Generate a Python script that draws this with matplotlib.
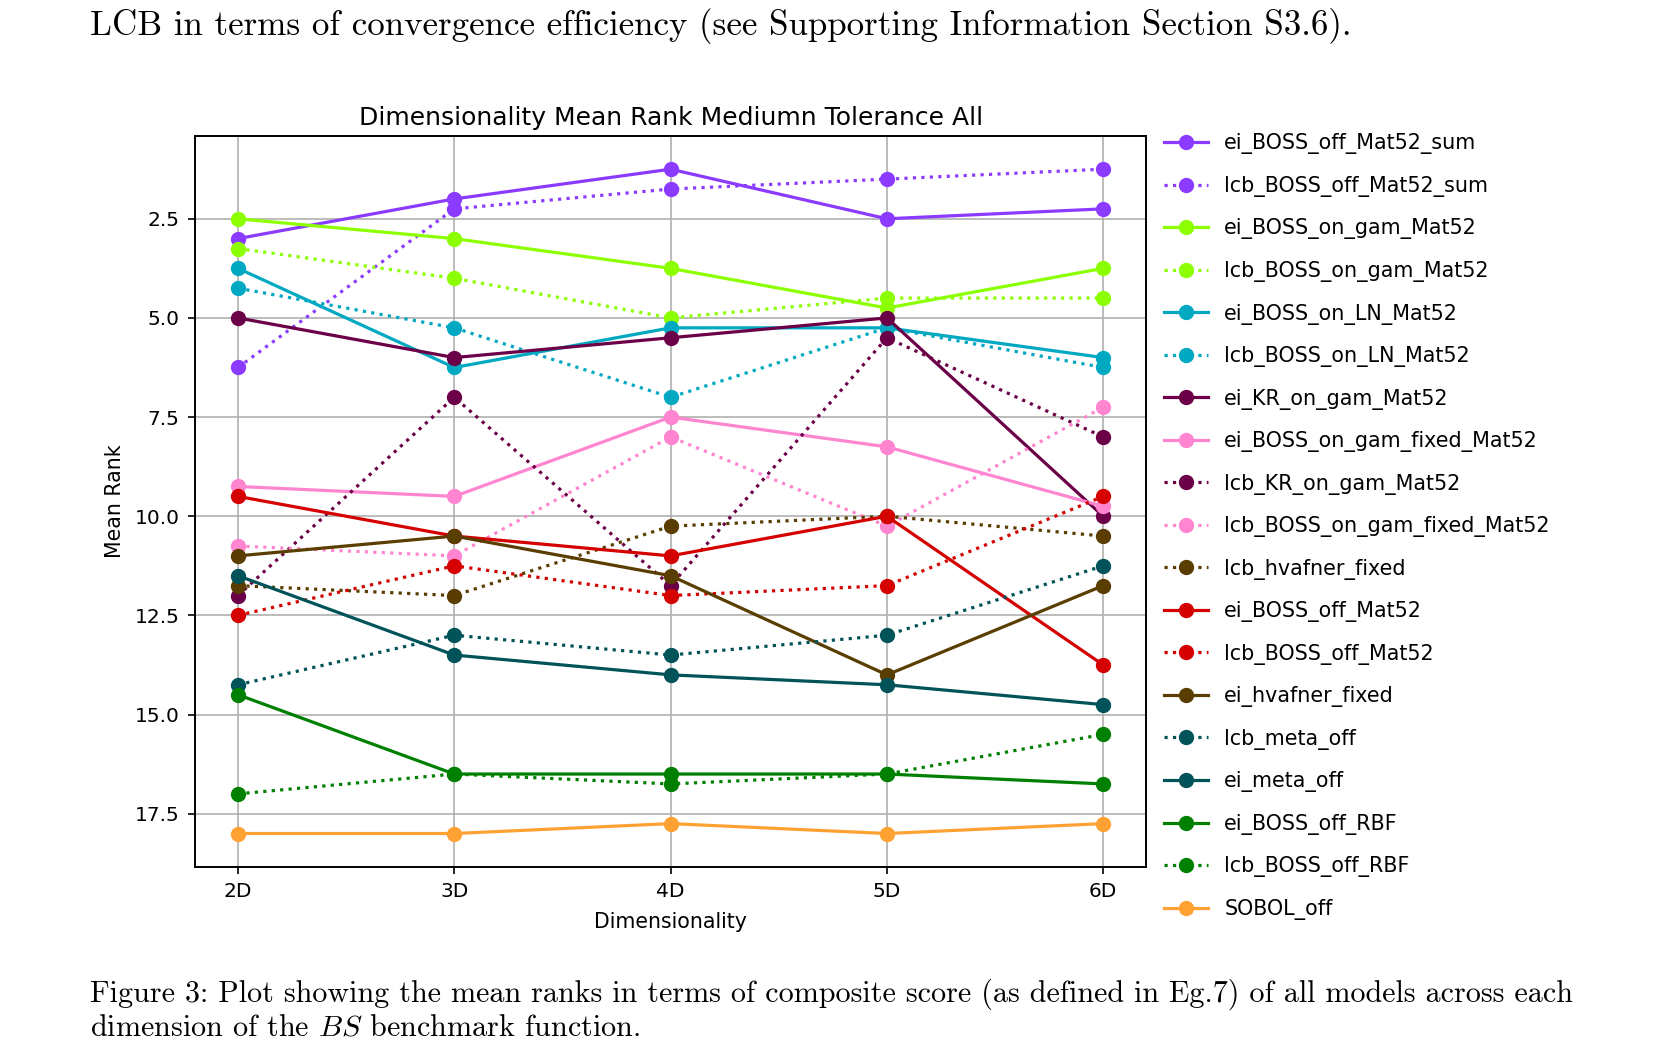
import matplotlib
matplotlib.use("Agg")
import matplotlib.pyplot as plt

plt.rcParams['mathtext.fontset'] = 'cm'

dims = ['2D', '3D', '4D', '5D', '6D']

# mean rank per model, one value per dimension
ei_BOSS_off_Mat52_sum = [3.0, 2.0, 1.25, 2.5, 2.25]
lcb_BOSS_off_Mat52_sum = [6.25, 2.25, 1.75, 1.5, 1.25]
ei_BOSS_on_gam_Mat52 = [2.5, 3.0, 3.75, 4.75, 3.75]
lcb_BOSS_on_gam_Mat52 = [3.25, 4.0, 5.0, 4.5, 4.5]
ei_BOSS_on_LN_Mat52 = [3.75, 6.25, 5.25, 5.25, 6.0]
lcb_BOSS_on_LN_Mat52 = [4.25, 5.25, 7.0, 5.25, 6.25]
ei_KR_on_gam_Mat52 = [5.0, 6.0, 5.5, 5.0, 10.0]
ei_BOSS_on_gam_fixed_Mat52 = [9.25, 9.5, 7.5, 8.25, 9.75]
lcb_KR_on_gam_Mat52 = [12.0, 7.0, 11.75, 5.5, 8.0]
lcb_BOSS_on_gam_fixed_Mat52 = [10.75, 11.0, 8.0, 10.25, 7.25]
lcb_hvafner_fixed = [11.75, 12.0, 10.25, 10.0, 10.5]
ei_BOSS_off_Mat52 = [9.5, 10.5, 11.0, 10.0, 13.75]
lcb_BOSS_off_Mat52 = [12.5, 11.25, 12.0, 11.75, 9.5]
ei_hvafner_fixed = [11.0, 10.5, 11.5, 14.0, 11.75]
lcb_meta_off = [14.25, 13.0, 13.5, 13.0, 11.25]
ei_meta_off = [11.5, 13.5, 14.0, 14.25, 14.75]
ei_BOSS_off_RBF = [14.5, 16.5, 16.5, 16.5, 16.75]
lcb_BOSS_off_RBF = [17.0, 16.5, 16.75, 16.5, 15.5]
SOBOL_off = [18.0, 18.0, 17.75, 18.0, 17.75]

# (label, values, colour, linestyle)
series = [
    ('ei_BOSS_off_Mat52_sum', ei_BOSS_off_Mat52_sum, '#8B3BFF', '-'),
    ('lcb_BOSS_off_Mat52_sum', lcb_BOSS_off_Mat52_sum, '#8B3BFF', ':'),
    ('ei_BOSS_on_gam_Mat52', ei_BOSS_on_gam_Mat52, '#8CFF00', '-'),
    ('lcb_BOSS_on_gam_Mat52', lcb_BOSS_on_gam_Mat52, '#8CFF00', ':'),
    ('ei_BOSS_on_LN_Mat52', ei_BOSS_on_LN_Mat52, '#00A8C2', '-'),
    ('lcb_BOSS_on_LN_Mat52', lcb_BOSS_on_LN_Mat52, '#00A8C2', ':'),
    ('ei_KR_on_gam_Mat52', ei_KR_on_gam_Mat52, '#6B0048', '-'),
    ('ei_BOSS_on_gam_fixed_Mat52', ei_BOSS_on_gam_fixed_Mat52, '#FF85D0', '-'),
    ('lcb_KR_on_gam_Mat52', lcb_KR_on_gam_Mat52, '#6B0048', ':'),
    ('lcb_BOSS_on_gam_fixed_Mat52', lcb_BOSS_on_gam_fixed_Mat52, '#FF85D0', ':'),
    ('lcb_hvafner_fixed', lcb_hvafner_fixed, '#5A3D00', ':'),
    ('ei_BOSS_off_Mat52', ei_BOSS_off_Mat52, '#D50000', '-'),
    ('lcb_BOSS_off_Mat52', lcb_BOSS_off_Mat52, '#D50000', ':'),
    ('ei_hvafner_fixed', ei_hvafner_fixed, '#5A3D00', '-'),
    ('lcb_meta_off', lcb_meta_off, '#005359', ':'),
    ('ei_meta_off', ei_meta_off, '#005359', '-'),
    ('ei_BOSS_off_RBF', ei_BOSS_off_RBF, '#008000', '-'),
    ('lcb_BOSS_off_RBF', lcb_BOSS_off_RBF, '#008000', ':'),
    ('SOBOL_off', SOBOL_off, '#FFA233', '-'),
]

fig = plt.figure(figsize=(16.64, 10.38), dpi=100)
ax = fig.add_axes([0.117, 0.165, 0.572, 0.704])

for label, vals, col, ls in series:
    ax.plot(dims, vals, ls, color=col, marker='o', markersize=10, linewidth=2.3, label=label)

ax.invert_yaxis()
ax.grid(True, color='#b0b0b0', linewidth=1.2)
ax.set_title('Dimensionality Mean Rank Mediumn Tolerance All', fontsize=18, pad=8)
ax.set_xlabel('Dimensionality', fontsize=14.8, labelpad=8)
ax.set_ylabel('Mean Rank', fontsize=14.8, labelpad=7)
ax.tick_params(labelsize=14.5, width=1.2, length=5, pad=6)
for sp in ax.spines.values():
    sp.set_linewidth(1.4)

ax.legend(loc='upper left', bbox_to_anchor=(0.999, 1.029), frameon=False,
          fontsize=14.9, handlelength=2.1, labelspacing=1.04)

# surrounding paper text
fig.text(90 / 1664, 1 - 35 / 1038,
         'LCB in terms of convergence efficiency (see Supporting Information Section S3.6).',
         family='cmr10', fontsize=25.2, va='baseline')
fig.text(90 / 1664, 1 - 1002 / 1038,
         'Figure 3: Plot showing the mean ranks in terms of composite score (as defined in Eg.7) of all models across each',
         family='cmr10', fontsize=21.7, va='baseline')
fig.text(90 / 1664, 1 - 1035 / 1038,
         'dimension of the $BS$ benchmark function.',
         family='cmr10', fontsize=21.7, va='baseline')

fig.savefig('out.png', dpi=100)
